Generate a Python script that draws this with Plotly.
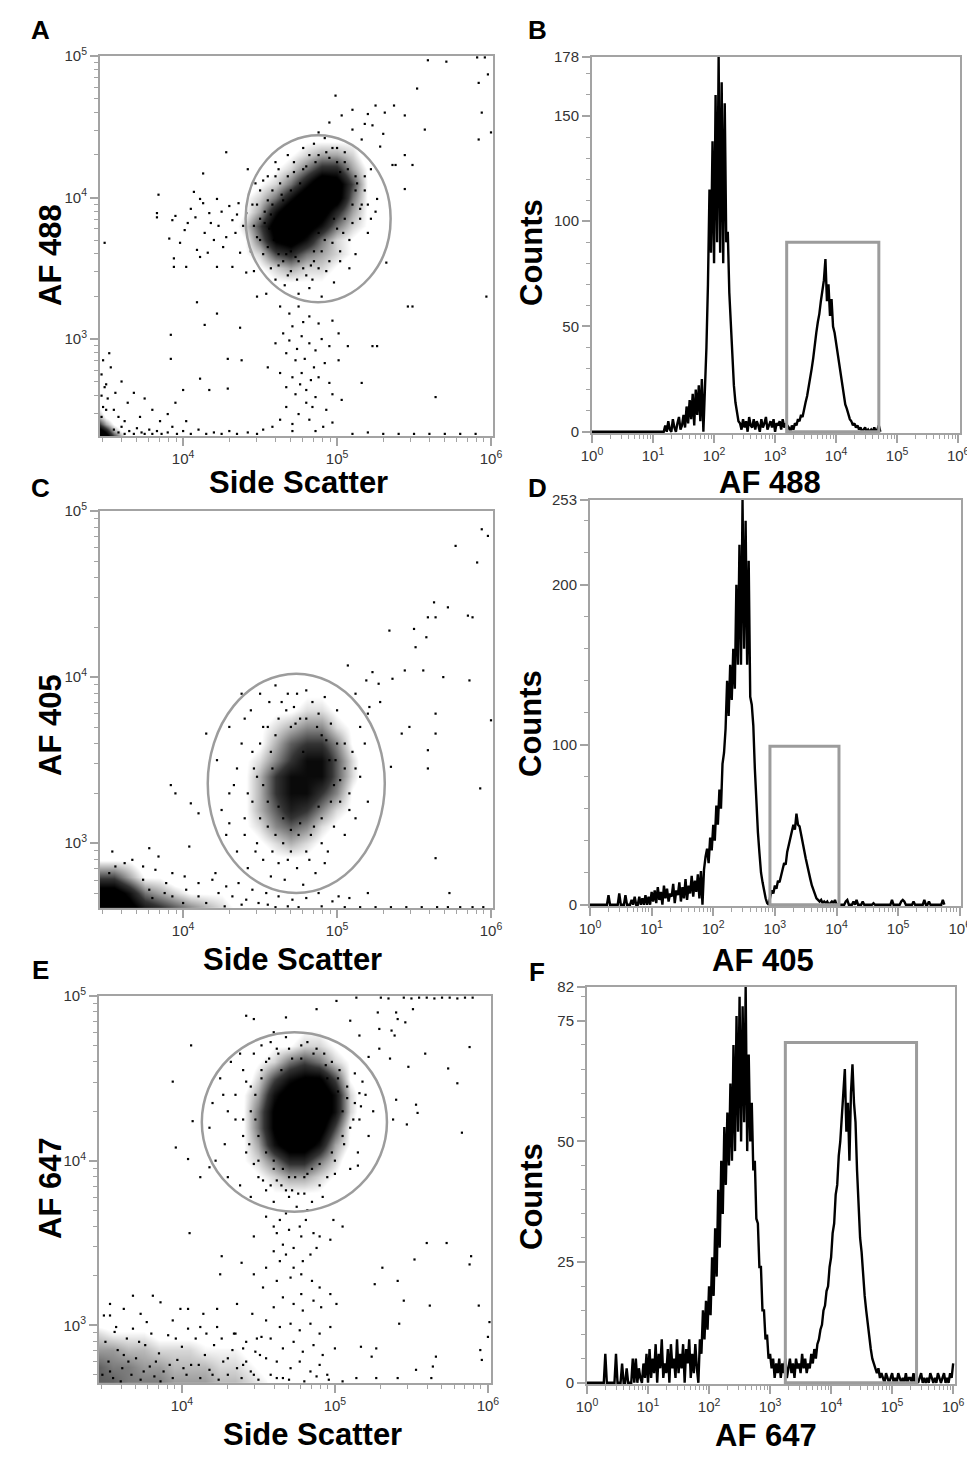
import math
import plotly.graph_objects as go

# the page body keeps an 8px browser margin, so the figure starts 8px in and is drawn
# 8px smaller; every reference pixel position is shifted by that margin
PAGE_W, PAGE_H = 975, 1462
OFF = 8
W, H = PAGE_W - OFF, PAGE_H - OFF
GRAY = "#a3a3a3"
GATE = "#9c9c9c"
FONT = "Liberation Sans"

# ---------------- histogram data: counts per channel, channels 0.025 decade wide from 10^0 ----------------
hist_step = 0.025

b_counts = [0, 0, 0, 0, 0, 0, 0, 0, 0, 0, 0, 0, 0, 0, 0, 0, 0, 0, 0, 0, 0, 0, 0, 0,
            0, 0, 0, 0, 0, 0, 0, 0, 0, 0, 0, 0, 0, 0, 0, 0, 0, 0, 0, 0, 0, 0, 0, 0,
            3, 0, 5, 1, 0, 6, 2, 0, 4, 7, 1, 3, 8,
            2, 12, 4, 15, 6, 18, 3, 20, 8, 22, 5, 25,
            0,
            20, 40, 70, 115, 85, 138, 80, 160, 90, 178, 85, 166, 80, 156, 90, 95, 66, 50, 35, 22, 14, 9, 5,
            4, 1, 6, 2, 5, 0, 7, 3, 2, 6, 1, 5, 3, 0, 6, 2, 4, 7, 1, 3, 5, 2, 6, 0, 4, 3, 5, 1, 6, 2, 4, 3,
            2, 0, 3, 1,
            4, 3, 6, 5, 8, 7, 11, 14, 17, 21, 26, 30, 35, 42, 47, 52, 56, 62, 68, 72,
            82, 62, 70, 55, 63, 50, 47, 42, 36, 31, 26, 21, 17, 13, 11, 8, 6, 5, 3, 4,
            2, 3, 1, 2, 0, 1, 2, 0, 1, 0, 1, 0, 2, 0, 1, 3, 0]

d_counts = [0, 0, 0, 0, 0, 0, 0, 0, 0, 0, 0, 0, 6, 0, 0, 0, 0, 0, 0, 7, 0, 0, 0, 6,
            0, 0, 0, 3, 0, 5, 0, 0, 5, 0, 4, 0, 6, 0, 5, 0, 8,
            2, 9, 1, 11, 3, 8, 0, 12, 4, 10, 2, 7, 5, 13, 1, 9, 6, 14, 2, 11, 4, 16, 3, 12, 7, 18, 5, 15, 8, 19, 4, 21,
            0,
            22, 30, 35, 26, 42, 34, 50, 40, 62, 50, 72, 60, 88, 95, 110, 140, 118, 150, 128, 160,
            135, 200, 150, 225, 150, 253, 160, 240, 150, 215, 130, 125, 112, 85, 60, 45, 32, 20, 14, 8,
            4, 1, 0,
            5, 9, 7, 12, 10, 15, 14, 19, 22, 26, 25, 33, 37, 42, 45, 50, 47, 57, 50, 49,
            44, 40, 34, 29, 24, 19, 16, 12, 9, 7, 4, 3, 2, 3, 1, 2, 1, 2, 0, 1, 2, 1, 3, 0,
            0, 0, 0, 0, 0, 2, 3, 0, 0, 0, 2, 0, 3, 0, 0, 0, 2, 0, 0, 0,
            0, 0, 0, 1, 0, 0, 0, 0, 0, 0, 0, 0, 0, 0, 0, 3, 0, 0, 0, 0,
            0, 2, 3, 2, 0, 0, 0, 0, 0, 2, 0, 0, 0, 0, 0, 0, 3, 0, 0, 2,
            0, 0, 0, 0, 0, 0, 0, 0, 3, 0]

f_counts = [0, 0, 0, 0, 0, 0, 0, 0, 0, 0, 0, 0, 6, 0, 0, 0, 0, 0, 0, 6, 0, 0, 0, 4,
            0, 0, 3, 0, 0, 0, 5, 0, 5, 0, 3, 1, 0, 4, 1, 6, 0,
            7, 1, 5, 2, 8, 0, 6, 3, 9, 1, 4, 2, 7, 0, 8, 3, 5, 1, 9, 2, 6, 3, 8, 0, 7, 4, 9, 1, 6, 2, 8, 3,
            0,
            9, 6, 15, 9, 17, 11, 20, 14, 26, 18, 32, 22, 40, 28, 46, 35, 53, 41, 56, 45,
            62, 46, 70, 48, 76, 52, 80, 50, 78, 54, 82, 48, 68, 50, 58, 44, 46, 34, 33, 24,
            24, 15, 15, 9, 10, 5, 6, 3, 5, 1, 4, 2, 5, 1, 4, 2, 5, 1,
            3, 5, 2, 4, 1, 5, 3, 4, 2, 6, 3, 5, 2, 4, 3, 6, 4, 7, 5, 8,
            9, 11, 12, 15, 16, 19, 20, 24, 26, 31, 33, 39, 41, 47, 50, 56, 60, 65, 52, 58,
            46, 60, 66, 58, 54, 44, 36, 30, 27, 22, 18, 15, 12, 9, 7, 5, 4, 3, 2, 3, 1, 2,
            1, 0, 2, 1, 0, 1, 2, 0, 1, 0, 2, 1, 0, 1, 0, 2, 0, 1, 1, 0, 2, 0, 1, 0,
            1, 2, 0, 1, 0, 1, 0, 2, 1, 0, 1, 0, 2, 1, 0, 1, 2, 0, 1, 0, 2, 1, 4]

# histogram gates: [low decade, high decade, top count]
b_gate = [3.19, 4.70, 90]
d_gate = [2.92, 4.04, 99]
f_gate = [3.25, 5.40, 70.5]

# ---------------- scatter gates (ellipses, log10 units): [x0, x1, y0, y1] ----------------
a_gate = [4.406, 5.348, 3.26, 4.44]
c_gate = [4.16, 5.31, 2.70, 4.02]
e_gate = [4.13, 5.34, 3.69, 4.78]

# ---------------- dense regions read as density grids (log10 centres) ----------------
a_core_x = [4.3, 4.4, 4.5, 4.6, 4.7, 4.8, 4.9, 5.0, 5.1, 5.2, 5.3]
a_core_y = [3.4, 3.5, 3.6, 3.7, 3.8, 3.9, 4.0, 4.1, 4.2, 4.3, 4.4]
a_core_z = [[0, 0, 0, 1, 1, 1, 1, 0, 0, 0, 0],
            [0, 0, 1, 2, 3, 2, 2, 1, 0, 0, 0],
            [0, 1, 2, 5, 6, 4, 3, 2, 1, 0, 0],
            [0, 1, 4, 8, 9, 7, 4, 2, 1, 0, 0],
            [0, 2, 5, 9, 10, 9, 7, 4, 2, 1, 0],
            [0, 1, 3, 7, 10, 10, 9, 6, 3, 1, 0],
            [0, 1, 2, 4, 7, 10, 10, 9, 4, 1, 0],
            [0, 0, 1, 2, 4, 7, 10, 9, 5, 1, 0],
            [0, 0, 0, 1, 2, 4, 6, 6, 3, 1, 0],
            [0, 0, 0, 0, 1, 2, 3, 3, 2, 0, 0],
            [0, 0, 0, 0, 0, 1, 1, 1, 1, 0, 0]]

a_corner_x = [3.45, 3.5, 3.55, 3.6, 3.65]
a_corner_y = [2.3, 2.35, 2.4, 2.45, 2.5, 2.55]
a_corner_z = [[10, 10, 6, 3, 0],
              [10, 7, 3, 1, 0],
              [6, 3, 1, 0, 0],
              [3, 1, 0, 0, 0],
              [2, 0, 0, 0, 0],
              [0, 0, 0, 0, 0]]

c_core_x = [4.3, 4.4, 4.5, 4.6, 4.7, 4.8, 4.9, 5.0, 5.1, 5.2]
c_core_y = [2.9, 3.0, 3.1, 3.2, 3.3, 3.4, 3.5, 3.6, 3.7, 3.8, 3.9]
c_core_z = [[0, 0, 0, 1, 1, 1, 0, 0, 0, 0],
            [0, 0, 1, 2, 3, 2, 1, 0, 0, 0],
            [0, 1, 2, 4, 5, 4, 2, 1, 0, 0],
            [0, 1, 3, 5, 7, 6, 4, 2, 1, 0],
            [0, 1, 3, 6, 8, 8, 6, 4, 1, 0],
            [0, 1, 3, 6, 8, 8, 8, 5, 2, 0],
            [0, 1, 2, 4, 6, 8, 8, 5, 2, 0],
            [0, 0, 1, 3, 5, 6, 6, 4, 1, 0],
            [0, 0, 1, 2, 3, 4, 4, 2, 1, 0],
            [0, 0, 0, 1, 1, 2, 2, 1, 0, 0],
            [0, 0, 0, 0, 0, 1, 1, 0, 0, 0]]

c_corner_x = [3.45, 3.55, 3.65, 3.75, 3.85, 3.95, 4.05, 4.15, 4.25, 4.35, 4.45]
c_corner_y = [2.6, 2.7, 2.8, 2.9, 3.0]
c_corner_z = [[10, 10, 9, 7, 6, 5, 4, 3, 2, 1, 0],
              [9, 9, 7, 4, 3, 2, 1, 1, 1, 0, 0],
              [5, 5, 3, 1, 1, 0, 0, 0, 0, 0, 0],
              [1, 1, 1, 0, 0, 0, 0, 0, 0, 0, 0],
              [0, 0, 0, 0, 0, 0, 0, 0, 0, 0, 0]]

e_core_x = [4.3, 4.4, 4.5, 4.6, 4.7, 4.8, 4.9, 5.0, 5.1, 5.2]
e_core_y = [3.8, 3.9, 4.0, 4.1, 4.2, 4.3, 4.4, 4.5, 4.6, 4.7, 4.8]
e_core_z = [[0, 0, 0, 1, 1, 1, 1, 0, 0, 0],
            [0, 0, 1, 2, 3, 3, 2, 1, 0, 0],
            [0, 1, 2, 4, 6, 6, 4, 2, 0, 0],
            [0, 1, 3, 7, 9, 9, 7, 3, 1, 0],
            [0, 1, 4, 8, 10, 10, 9, 5, 1, 0],
            [0, 1, 4, 8, 10, 10, 10, 7, 2, 0],
            [0, 1, 3, 7, 9, 10, 10, 7, 2, 0],
            [0, 0, 2, 5, 7, 8, 8, 5, 1, 0],
            [0, 0, 1, 2, 4, 5, 4, 2, 1, 0],
            [0, 0, 0, 1, 1, 2, 2, 1, 0, 0],
            [0, 0, 0, 0, 0, 1, 1, 0, 0, 0]]

e_band_x = [3.45, 3.55, 3.65, 3.75, 3.85, 3.95, 4.05, 4.15, 4.25, 4.35, 4.45, 4.55, 4.65]
e_band_y = [2.65, 2.75, 2.85, 2.95, 3.05]
e_band_z = [[7, 7, 6, 6, 6, 5, 5, 5, 4, 4, 3, 2, 0],
            [7, 6, 6, 5, 5, 4, 4, 4, 3, 3, 2, 1, 0],
            [5, 5, 4, 4, 3, 3, 3, 2, 2, 2, 1, 0, 0],
            [3, 2, 2, 2, 1, 1, 1, 1, 0, 0, 0, 0, 0],
            [0, 0, 0, 0, 0, 0, 0, 0, 0, 0, 0, 0, 0]]

# ---------------- single events (log10 side scatter, log10 fluorescence) ----------------
a_left = [(3.83, 3.89), (3.83, 3.86), (3.91, 3.71), (3.93, 3.84), (3.95, 3.87), (3.94, 3.57), (3.94, 3.51),
          (4.01, 3.77), (4.03, 3.82), (4.07, 4.04), (4.11, 3.99), (4.13, 4.17), (4.13, 3.96), (4.14, 3.75),
          (4.17, 3.89), (4.20, 3.70), (4.22, 3.99), (4.23, 3.80), (4.26, 3.65), (4.28, 4.32), (4.30, 3.94),
          (4.32, 3.84), (4.34, 3.75), (4.36, 3.96), (4.37, 3.61), (4.39, 3.80), (4.41, 3.89), (4.09, 3.63),
          (4.02, 3.51), (4.11, 3.58), (4.16, 3.61), (4.22, 3.51), (4.32, 3.51), (4.41, 3.47), (3.49, 3.68),
          (3.84, 4.02), (4.05, 3.92), (4.18, 3.82), (4.25, 3.90), (4.28, 3.72), (4.35, 3.88), (3.98, 3.68),
          (4.08, 3.86)]
a_halo = [(4.45, 3.95), (4.48, 3.72), (4.50, 4.05), (4.52, 3.60), (4.46, 3.48), (4.55, 4.15), (4.57, 3.50),
          (4.60, 4.25), (4.60, 3.42), (4.63, 4.10), (4.66, 3.38), (4.68, 4.30), (4.70, 3.48), (4.72, 4.18),
          (4.75, 3.32), (4.78, 4.35), (4.80, 3.45), (4.82, 3.36), (4.85, 4.38), (4.88, 3.50), (4.90, 3.30),
          (4.92, 4.42), (4.95, 3.55), (4.98, 3.40), (5.00, 4.35), (5.02, 3.62), (5.05, 4.25), (5.08, 3.70),
          (5.10, 3.95), (5.12, 4.15), (5.15, 3.85), (5.18, 4.05), (5.20, 3.75), (5.22, 4.20), (5.25, 3.90),
          (5.08, 3.50), (5.12, 3.60), (4.42, 4.20), (4.50, 3.85), (4.53, 3.90), (4.56, 3.78), (4.62, 3.60),
          (4.65, 3.55), (4.70, 3.62), (4.75, 3.55), (4.85, 3.62), (4.92, 3.70), (5.00, 3.78), (5.05, 3.85),
          (5.12, 4.05), (4.78, 4.20), (4.86, 4.25), (4.95, 4.28), (5.05, 4.32), (4.70, 4.05), (4.65, 3.98),
          (4.58, 3.95), (4.88, 3.75), (4.98, 3.85), (4.72, 3.70), (4.44, 3.62), (4.47, 4.10), (5.16, 3.95),
          (4.83, 3.52), (4.60, 4.15), (5.02, 4.18)]
a_halo2 = [(4.50, 3.70), (4.53, 3.82), (4.55, 3.65), (4.57, 3.88), (4.59, 3.70), (4.55, 3.98), (4.62, 3.52),
           (4.64, 4.02), (4.67, 3.60), (4.68, 4.15), (4.73, 3.58), (4.76, 4.10), (4.78, 3.50), (4.80, 4.22),
           (4.85, 3.55), (4.88, 4.30), (4.90, 3.62), (4.93, 4.32), (4.97, 3.68), (5.00, 4.25), (5.04, 3.75),
           (5.07, 4.20), (5.10, 3.82), (5.13, 4.10), (5.15, 3.92), (5.18, 4.15), (4.46, 3.80), (4.48, 3.95),
           (4.52, 4.12), (4.58, 4.05), (4.68, 3.45), (4.74, 3.42), (4.84, 3.42), (4.93, 3.48), (5.02, 3.55),
           (5.20, 3.95), (5.22, 3.85), (4.82, 4.30), (4.72, 4.25), (4.62, 4.20)]
a_upper = [(4.99, 4.72), (4.95, 4.53), (5.03, 4.58), (5.10, 4.62), (5.20, 4.59), (5.25, 4.65), (5.31, 4.60),
           (5.37, 4.65), (5.44, 4.58), (5.16, 4.41), (5.23, 4.51), (5.28, 4.36), (5.38, 4.23), (5.44, 4.30),
           (5.49, 4.23), (5.44, 4.06), (5.52, 4.77), (5.57, 4.48), (5.59, 4.97), (5.71, 4.96), (5.92, 4.81),
           (5.92, 4.41), (5.94, 4.60), (5.98, 4.87), (6.00, 4.46), (5.91, 4.99), (5.96, 4.99), (5.97, 3.30),
           (5.49, 3.23), (5.64, 2.59), (5.32, 3.54), (5.26, 3.99), (5.36, 4.23), (5.10, 4.48), (4.88, 4.46),
           (4.97, 4.35), (5.30, 4.45), (5.18, 4.52)]
a_stream = [(4.48, 3.30), (4.54, 3.32), (4.63, 3.23), (4.69, 3.18), (4.75, 3.23), (4.82, 3.16), (4.88, 3.11),
            (4.97, 3.13), (5.01, 3.04), (4.71, 3.09), (4.65, 3.04), (4.60, 2.97), (4.69, 2.99), (4.77, 3.02),
            (4.82, 2.97), (4.86, 2.92), (4.95, 2.95), (5.07, 2.95), (5.23, 2.95), (4.67, 2.90), (4.73, 2.85),
            (4.79, 2.86), (4.85, 2.80), (4.92, 2.83), (5.01, 2.85), (4.55, 2.80), (4.63, 2.76), (4.71, 2.73),
            (4.77, 2.76), (4.83, 2.71), (4.88, 2.73), (4.95, 2.69), (4.67, 2.66), (4.73, 2.61), (4.80, 2.64),
            (4.86, 2.59), (4.97, 2.61), (4.67, 2.52), (4.75, 2.47), (4.84, 2.52), (4.93, 2.50), (5.03, 2.57),
            (4.63, 2.43), (4.71, 2.40), (4.82, 2.43), (4.91, 2.38), (4.97, 2.41), (4.58, 2.38), (4.71, 2.35),
            (4.86, 2.35), (4.29, 2.86), (4.38, 2.85), (4.22, 3.18), (4.37, 3.08), (4.14, 3.10), (4.09, 3.26),
            (3.92, 3.03), (3.92, 2.86), (4.11, 2.72), (4.00, 2.64), (4.17, 2.64), (4.29, 2.65), (5.16, 2.69),
            (5.26, 2.95), (5.46, 3.23), (4.78, 3.12), (4.90, 3.00), (4.74, 2.93), (4.80, 2.55), (4.76, 2.68)]
a_bottom = [(3.55, 2.36), (3.58, 2.34), (3.60, 2.38), (3.62, 2.33), (3.65, 2.35), (3.68, 2.33), (3.70, 2.37),
            (3.73, 2.34), (3.75, 2.33), (3.78, 2.36), (3.80, 2.33), (3.83, 2.35), (3.86, 2.33), (3.90, 2.34),
            (3.93, 2.38), (3.96, 2.33), (4.00, 2.35), (4.05, 2.33), (4.10, 2.36), (4.15, 2.33), (4.20, 2.34),
            (4.25, 2.33), (4.30, 2.35), (4.35, 2.33), (4.42, 2.34), (4.48, 2.33), (4.52, 2.36), (5.10, 2.33),
            (5.20, 2.34), (5.30, 2.33), (5.40, 2.33), (5.50, 2.33), (5.60, 2.33), (5.70, 2.33), (5.80, 2.33),
            (5.90, 2.33), (3.72, 2.45), (3.80, 2.50), (3.64, 2.55), (3.85, 2.42), (3.68, 2.62), (3.60, 2.70),
            (3.75, 2.58), (3.90, 2.47), (4.02, 2.42), (3.95, 2.55), (3.53, 2.80), (3.56, 2.62), (3.52, 2.90),
            (3.47, 2.45), (3.48, 2.52), (3.47, 2.60), (3.49, 2.66), (3.47, 2.75), (3.48, 2.85), (3.50, 2.50),
            (3.51, 2.58), (3.50, 2.68), (3.58, 2.45), (3.62, 2.42), (3.55, 2.50)]

c_halo = [(4.22, 3.50), (4.25, 3.20), (4.28, 3.05), (4.30, 3.70), (4.33, 3.35), (4.35, 2.95), (4.38, 3.60),
          (4.40, 3.15), (4.42, 2.85), (4.44, 3.80), (4.46, 3.45), (4.48, 3.00), (4.50, 3.90), (4.52, 2.90),
          (4.55, 3.70), (4.57, 2.80), (4.60, 3.95), (4.62, 2.88), (4.64, 3.85), (4.66, 2.78), (4.68, 3.90),
          (4.70, 2.95), (4.72, 3.82), (4.74, 2.85), (4.76, 3.75), (4.78, 2.75), (4.80, 3.92), (4.82, 2.90),
          (4.84, 3.85), (4.86, 2.82), (4.88, 3.78), (4.90, 3.00), (4.92, 3.88), (4.94, 2.95), (4.96, 3.72),
          (4.98, 3.10), (5.00, 3.60), (5.02, 3.25), (5.05, 3.45), (5.08, 3.30), (5.10, 3.55), (5.12, 3.15),
          (5.15, 3.40), (5.18, 3.60), (5.20, 3.25), (4.45, 3.25), (4.50, 3.60), (4.55, 3.10), (4.60, 3.65),
          (4.58, 3.45), (4.35, 3.45), (4.30, 3.30), (4.40, 3.75), (4.65, 3.00), (4.95, 3.50), (5.00, 3.80),
          (4.90, 3.65), (5.05, 3.05), (4.75, 3.05), (4.85, 3.10), (4.70, 3.70), (4.78, 3.55), (4.52, 3.35),
          (4.62, 3.22), (4.98, 3.35), (4.88, 3.22)]
c_halo2 = [(4.45, 3.55), (4.48, 3.40), (4.50, 3.15), (4.52, 3.70), (4.55, 3.25), (4.57, 3.55), (4.60, 3.05),
           (4.62, 3.75), (4.65, 3.15), (4.67, 3.80), (4.70, 3.08), (4.73, 3.72), (4.76, 3.12), (4.80, 3.75),
           (4.83, 3.05), (4.87, 3.70), (4.90, 3.15), (4.93, 3.62), (4.96, 3.25), (4.99, 3.50), (5.02, 3.38),
           (5.05, 3.60), (5.08, 3.20), (4.42, 3.30), (4.40, 3.05), (4.47, 2.95), (4.58, 2.95), (4.68, 2.90),
           (4.80, 2.95), (4.92, 2.88), (5.12, 3.45), (5.15, 3.70), (4.38, 3.90), (4.56, 3.85), (4.74, 3.90)]
c_upper = [(5.07, 4.07), (5.23, 4.03), (5.19, 3.98), (5.27, 3.96), (5.36, 3.99), (5.44, 4.04), (5.56, 4.04),
           (5.69, 4.00), (5.86, 3.98), (5.21, 3.82), (5.20, 3.78), (5.34, 4.28), (5.50, 4.29), (5.51, 4.18),
           (5.58, 4.24), (5.59, 4.36), (5.64, 4.36), (5.63, 4.45), (5.72, 4.42), (5.85, 4.37), (5.88, 4.36),
           (5.77, 4.79), (5.91, 4.69), (5.94, 4.89), (5.98, 4.85), (6.00, 3.74), (5.93, 3.33), (5.64, 3.78),
           (5.64, 3.66), (5.59, 3.56), (5.59, 3.45), (5.47, 3.70), (5.35, 3.46), (5.42, 3.66), (5.64, 2.91),
           (5.73, 2.70), (5.20, 2.70), (5.08, 2.67), (5.12, 3.90), (5.28, 3.85)]
c_low = [(3.92, 3.35), (3.95, 3.30), (4.05, 3.24), (4.10, 3.18), (4.15, 3.66), (4.30, 3.12), (4.04, 2.98),
         (3.78, 2.97), (3.54, 2.95), (3.62, 2.88), (3.67, 2.90), (3.74, 2.86), (3.82, 2.84), (3.93, 2.82),
         (4.01, 2.80), (4.10, 2.76), (4.19, 2.78), (4.28, 2.74), (4.36, 2.76), (4.45, 2.72), (4.54, 2.70),
         (4.62, 2.68), (4.71, 2.66), (4.80, 2.67), (4.88, 2.70), (4.97, 2.65), (5.01, 2.68), (3.56, 2.86),
         (3.52, 2.82), (3.84, 2.92), (4.21, 2.82), (4.32, 2.68), (4.41, 2.66), (4.02, 2.72), (3.89, 2.76),
         (3.78, 2.72), (3.74, 2.78), (4.10, 2.68), (3.93, 2.68), (3.80, 2.67), (4.23, 2.70), (4.49, 2.64),
         (4.60, 2.615), (4.75, 2.615), (4.90, 2.62), (5.05, 2.615), (5.15, 2.615), (5.25, 2.615), (5.35, 2.615),
         (5.45, 2.615), (5.55, 2.615), (5.65, 2.615), (5.72, 2.615), (5.80, 2.615), (5.88, 2.615), (5.95, 2.615),
         (4.38, 2.63), (4.55, 2.63), (4.68, 2.62), (4.15, 2.64), (4.00, 2.64), (3.88, 2.70), (4.27, 2.62)]

e_halo = [(4.18, 4.20), (4.20, 4.35), (4.22, 4.00), (4.25, 4.50), (4.28, 4.10), (4.30, 3.90), (4.32, 4.60),
          (4.35, 4.25), (4.38, 3.85), (4.40, 4.55), (4.42, 4.05), (4.45, 3.78), (4.47, 4.65), (4.50, 3.90),
          (4.52, 4.70), (4.55, 3.82), (4.58, 4.72), (4.60, 3.75), (4.62, 4.68), (4.65, 3.85), (4.68, 4.75),
          (4.70, 3.78), (4.72, 4.62), (4.75, 3.72), (4.78, 4.70), (4.80, 3.80), (4.82, 4.72), (4.85, 3.75),
          (4.88, 4.68), (4.90, 3.85), (4.93, 4.65), (4.95, 3.90), (4.98, 4.60), (5.00, 4.00), (5.03, 4.55),
          (5.06, 4.10), (5.08, 4.45), (5.10, 4.20), (5.13, 4.35), (5.16, 4.25), (5.20, 4.40), (5.22, 4.15),
          (5.25, 4.30), (4.35, 4.40), (4.45, 4.45), (4.40, 4.15), (4.50, 4.00), (4.55, 4.60), (4.60, 3.95),
          (4.65, 4.55), (4.70, 3.90), (4.85, 3.95), (4.95, 4.50), (5.05, 4.30), (5.10, 3.95), (4.62, 3.88),
          (4.72, 3.82), (4.80, 3.90), (4.30, 4.30), (4.27, 4.40), (4.48, 4.25), (4.52, 4.50), (5.02, 4.42)]
e_halo2 = [(4.45, 4.30), (4.48, 4.40), (4.50, 4.15), (4.52, 4.55), (4.55, 4.05), (4.57, 4.62), (4.60, 4.00),
           (4.63, 4.65), (4.66, 3.95), (4.70, 4.68), (4.74, 3.90), (4.78, 4.62), (4.82, 3.92), (4.86, 4.65),
           (4.90, 3.98), (4.94, 4.58), (4.98, 4.05), (5.02, 4.50), (5.05, 4.15), (5.08, 4.38), (5.12, 4.25),
           (4.42, 4.48), (4.40, 4.25), (4.44, 4.10), (4.47, 3.98), (4.53, 3.88), (4.58, 3.85), (4.68, 3.82),
           (4.76, 3.80), (4.92, 3.78), (5.00, 3.92), (5.15, 4.05), (5.18, 4.48), (4.38, 4.65), (4.60, 4.78)]
e_upper = [(4.42, 4.88), (4.47, 4.86), (4.68, 4.87), (4.88, 4.92), (5.01, 4.97), (5.14, 4.99), (5.10, 4.85),
           (5.28, 4.90), (5.40, 4.90), (5.41, 4.86), (5.46, 4.84), (5.51, 4.92), (5.29, 4.80), (5.37, 4.79),
           (5.39, 4.76), (5.29, 4.68), (5.16, 4.76), (5.22, 4.63), (5.36, 4.62), (5.48, 4.57), (5.59, 4.65),
           (5.74, 4.56), (5.88, 4.69), (5.80, 4.47), (5.53, 4.34), (5.54, 4.29), (5.47, 4.22), (5.38, 4.25),
           (5.83, 4.17), (5.40, 4.37), (5.16, 4.41), (5.17, 4.33), (5.13, 4.53), (4.06, 4.70), (3.94, 4.48),
           (4.07, 4.24), (3.96, 4.08), (4.04, 4.01), (4.12, 3.90), (4.18, 3.96), (4.05, 3.56), (5.15, 3.97),
           (5.60, 3.50), (5.73, 3.50), (5.52, 3.40), (5.89, 3.42), (5.88, 3.37), (6.01, 3.02), (6.00, 2.93),
           (5.94, 3.12), (5.62, 3.12), (5.45, 3.15), (5.41, 3.27), (5.31, 3.35), (5.26, 3.25), (5.42, 3.01),
           (5.17, 2.87), (5.27, 2.86), (5.24, 2.81), (5.66, 2.81), (5.95, 2.85), (5.96, 2.79), (5.64, 2.75),
           (5.53, 2.73), (5.41, 2.68), (5.27, 2.68), (5.14, 2.68), (5.63, 2.68),
           (5.30, 4.99), (5.35, 4.985), (5.45, 4.99), (5.50, 4.985), (5.55, 4.99), (5.60, 4.99), (5.65, 4.985),
           (5.70, 4.99), (5.75, 4.99), (5.80, 4.985), (5.85, 4.99), (5.90, 4.99)]
e_stream = [(4.55, 3.66), (4.60, 3.60), (4.64, 3.64), (4.62, 3.56), (4.68, 3.68), (4.77, 3.60), (4.81, 3.64),
            (4.86, 3.56), (4.78, 3.54), (4.73, 3.47), (4.66, 3.49), (4.68, 3.43), (4.60, 3.45), (4.55, 3.35),
            (4.64, 3.39), (4.73, 3.35), (4.79, 3.39), (4.84, 3.43), (4.88, 3.47), (4.90, 3.54), (4.97, 3.52),
            (5.05, 3.60), (4.99, 3.64), (4.47, 3.54), (4.39, 3.38), (4.47, 3.31), (4.53, 3.23), (4.62, 3.27),
            (4.71, 3.29), (4.78, 3.31), (4.85, 3.27), (4.90, 3.23), (4.78, 3.19), (4.73, 3.13), (4.66, 3.17),
            (4.60, 3.11), (4.79, 3.09), (4.86, 3.15), (4.91, 3.11), (4.97, 3.19), (5.01, 3.13), (4.55, 3.03),
            (4.64, 2.99), (4.71, 3.01), (4.77, 2.97), (4.84, 3.01), (4.90, 2.95), (4.97, 2.99), (4.58, 2.92),
            (4.66, 2.86), (4.73, 2.90), (4.79, 2.84), (4.86, 2.88), (4.92, 2.82), (5.00, 2.86), (4.62, 2.78),
            (4.71, 2.74), (4.77, 2.78), (4.84, 2.72), (4.90, 2.76), (4.95, 2.70), (4.66, 2.68), (4.47, 2.70),
            (4.42, 2.78), (4.51, 2.82), (4.49, 2.92), (4.40, 2.86), (4.34, 2.95), (4.25, 3.31), (4.26, 3.42),
            (4.46, 3.07), (4.36, 3.13), (4.23, 3.10), (4.04, 3.10), (3.94, 3.03), (3.86, 3.14), (3.81, 3.18),
            (3.68, 3.18), (3.62, 3.10), (3.53, 3.13), (3.49, 3.06), (3.53, 3.06), (3.57, 2.99), (3.73, 3.07),
            (3.77, 3.02), (3.99, 3.10), (4.14, 3.07), (4.23, 2.99), (4.12, 2.99), (4.82, 3.70), (4.70, 3.58)]
e_band = [(3.48, 2.70), (3.52, 2.78), (3.55, 2.68), (3.58, 2.85), (3.61, 2.74), (3.64, 2.92), (3.67, 2.70),
          (3.70, 2.80), (3.73, 2.67), (3.76, 2.88), (3.79, 2.75), (3.82, 2.69), (3.85, 2.83), (3.88, 2.72),
          (3.91, 2.94), (3.94, 2.68), (3.97, 2.79), (4.00, 2.87), (4.03, 2.70), (4.06, 2.76), (4.09, 2.92),
          (4.12, 2.68), (4.15, 2.82), (4.18, 2.73), (4.21, 2.88), (4.24, 2.67), (4.27, 2.78), (4.30, 2.70),
          (4.33, 2.85), (4.36, 2.74), (4.39, 2.68), (4.42, 2.90), (4.45, 2.72), (4.50, 2.67), (4.55, 2.80),
          (4.58, 2.70), (3.50, 2.90), (3.56, 2.96), (3.62, 2.82), (3.68, 2.98), (3.72, 2.90), (3.80, 2.95),
          (3.86, 2.66), (3.96, 2.92), (4.04, 2.98), (4.16, 2.95), (4.26, 2.92), (4.35, 2.95), (3.53, 2.72),
          (3.60, 2.66), (3.65, 2.78), (3.75, 2.72), (3.83, 2.78), (3.92, 2.76), (4.01, 2.74), (4.11, 2.76),
          (4.20, 2.70), (4.30, 2.80), (4.40, 2.76), (4.48, 2.84), (4.52, 2.93), (4.62, 2.68), (4.70, 2.67),
          (4.80, 2.66), (4.88, 2.69), (4.96, 2.67), (5.05, 2.66)]


def px_x(a, b):
    return [(a - OFF) / W, (b - OFF) / W]


def px_y(top, bottom):
    return [1 - (bottom - OFF) / H, 1 - (top - OFF) / H]


def log_axis(lo, hi, dom, anchor, layer="above traces"):
    major = list(range(math.ceil(lo - 1e-9), math.floor(hi + 1e-9) + 1))
    minor = [n + math.log10(k) for n in range(math.floor(lo), math.ceil(hi)) for k in range(2, 10)
             if lo < n + math.log10(k) < hi]
    return dict(domain=dom, anchor=anchor, range=[lo, hi], showline=True, linecolor=GRAY, linewidth=2,
                mirror=True, ticks="outside", ticklen=8, tickwidth=1.5, tickcolor=GRAY,
                tickvals=major, ticktext=["10<sup>%d</sup>" % n for n in major],
                tickfont=dict(family=FONT, size=15, color="#333"), ticklabeloverflow="allow",
                minor=dict(tickvals=minor, ticks="outside", ticklen=4, tickcolor=GRAY, tickwidth=1.2),
                showgrid=False, zeroline=False, layer=layer, automargin=False, fixedrange=True)


def count_axis(top, labels, step, dom, anchor, pad):
    minor = [v for v in range(0, int(top) + 1, step) if v not in labels]
    return dict(domain=dom, anchor=anchor, range=[-pad, top], showline=True, linecolor=GRAY, linewidth=2,
                mirror=True, ticks="outside", ticklen=8, tickwidth=1.5, tickcolor=GRAY,
                tickvals=labels, ticktext=[str(v) for v in labels],
                tickfont=dict(family=FONT, size=15, color="#333"), ticklabeloverflow="allow",
                minor=dict(tickvals=minor, ticks="outside", ticklen=4, tickcolor=GRAY, tickwidth=1.2),
                showgrid=False, zeroline=False, layer="below traces", automargin=False, fixedrange=True)


CS = [[0, "rgba(0,0,0,0)"], [0.12, "rgba(0,0,0,0)"], [0.3, "rgba(0,0,0,0.3)"],
      [0.6, "rgba(0,0,0,0.8)"], [0.85, "rgba(0,0,0,1)"], [1, "rgba(0,0,0,1)"]]


def dens(xs, ys, z, zmax, ax):
    return go.Heatmap(x=xs, y=ys, z=z, zmin=0, zmax=zmax, zsmooth="best", colorscale=CS,
                      showscale=False, hoverinfo="skip", xaxis="x" + ax, yaxis="y" + ax)


def dots(groups, ax):
    pts = [p for g in groups for p in g]
    return go.Scatter(x=[p[0] for p in pts], y=[p[1] for p in pts], mode="markers",
                      marker=dict(symbol="square", size=2.2, color="black", line=dict(width=0)),
                      hoverinfo="skip", xaxis="x" + ax, yaxis="y" + ax)


def hist(counts, ax):
    return go.Scatter(x=[i * hist_step for i in range(len(counts))], y=counts, mode="lines",
                      line=dict(color="black", width=2.4), hoverinfo="skip",
                      xaxis="x" + ax, yaxis="y" + ax)


fig = go.Figure()
fig.add_trace(dens(a_core_x, a_core_y, a_core_z, 9, ""))
fig.add_trace(dens(a_corner_x, a_corner_y, a_corner_z, 9, ""))
fig.add_trace(dots([a_left, a_halo, a_halo2, a_upper, a_stream, a_bottom], ""))
fig.add_trace(hist(b_counts, "2"))
fig.add_trace(dens(c_core_x, c_core_y, c_core_z, 10, "3"))
fig.add_trace(dens(c_corner_x, c_corner_y, c_corner_z, 9, "3"))
fig.add_trace(dots([c_halo, c_halo2, c_upper, c_low], "3"))
fig.add_trace(hist(d_counts, "4"))
fig.add_trace(dens(e_core_x, e_core_y, e_core_z, 9, "5"))
fig.add_trace(dens(e_band_x, e_band_y, e_band_z, 14, "5"))
fig.add_trace(dots([e_halo, e_halo2, e_upper, e_stream, e_band], "5"))
fig.add_trace(hist(f_counts, "6"))

shapes = []
for g, ax in [(a_gate, ""), (c_gate, "3"), (e_gate, "5")]:
    shapes.append(dict(type="circle", xref="x" + ax, yref="y" + ax, x0=g[0], x1=g[1], y0=g[2], y1=g[3],
                       line=dict(color=GATE, width=2.5)))
for g, ax in [(b_gate, "2"), (d_gate, "4"), (f_gate, "6")]:
    shapes.append(dict(type="rect", xref="x" + ax, yref="y" + ax, x0=g[0], x1=g[1], y0=0, y1=g[2],
                       line=dict(color=GATE, width=3)))

annots = []


def label(text, x, y, size, angle=0):
    annots.append(dict(text=text, x=(x - OFF) / W, y=1 - (y - OFF) / H, xref="paper", yref="paper",
                       showarrow=False, xanchor="center", yanchor="middle", textangle=angle,
                       font=dict(family=FONT, size=size, color="black", weight="bold")))


for t, x, y in [("A", 40, 30), ("B", 537, 30), ("C", 40, 488), ("D", 537, 488), ("E", 40, 970), ("F", 537, 972)]:
    label(t, x, y, 26)
label("Side Scatter", 298, 483, 31)
label("Side Scatter", 292, 959, 31)
label("Side Scatter", 312, 1434, 31)
label("AF 488", 50, 255, 31, -90)
label("AF 405", 50, 725, 31, -90)
label("AF 647", 50, 1188, 31, -90)
label("Counts", 532, 253, 31, -90)
label("Counts", 530, 724, 31, -90)
label("Counts", 531, 1197, 31, -90)
label("AF 488", 770, 482, 31)
label("AF 405", 763, 960, 31)
label("AF 647", 766, 1435, 31)

fig.update_layout(
    template="none",
    width=W, height=H, margin=dict(l=0, r=0, t=0, b=0, autoexpand=False), showlegend=False,
    paper_bgcolor="white", plot_bgcolor="white", shapes=shapes, annotations=annots,
    xaxis=log_axis(3.46, 6.013, px_x(100, 493), "y"),
    yaxis=log_axis(2.315, 5.0, px_y(56, 436), "x"),
    xaxis2=log_axis(0, 6.03, px_x(592, 960), "y2", "below traces"),
    yaxis2=count_axis(178, [0, 50, 100, 150, 178], 10, px_y(57, 433), "x2", 0.6),
    xaxis3=log_axis(3.46, 6.013, px_x(100, 493), "y3"),
    yaxis3=log_axis(2.61, 5.0, px_y(511, 908), "x3"),
    xaxis4=log_axis(0, 6.02, px_x(590, 961), "y4", "below traces"),
    yaxis4=count_axis(253, [0, 100, 200, 253], 20, px_y(500, 906), "x4", 0.8),
    xaxis5=log_axis(3.458, 6.02, px_x(99, 491), "y5"),
    yaxis5=log_axis(2.65, 5.0, px_y(996, 1383), "x5"),
    xaxis6=log_axis(0, 6.03, px_x(587, 955), "y6", "below traces"),
    yaxis6=count_axis(82, [0, 25, 50, 75, 82], 5, px_y(987, 1384), "x6", 0.25),
)

fig.write_html("out.html")
